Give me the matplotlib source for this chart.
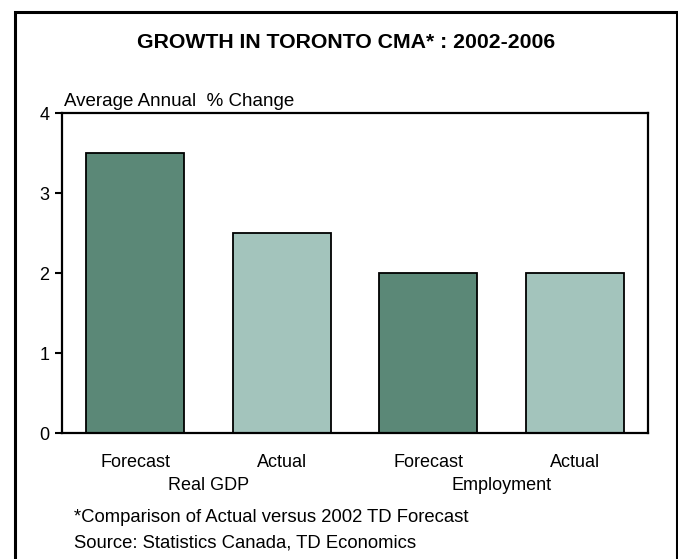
import matplotlib
matplotlib.use("Agg")
import matplotlib.pyplot as plt
from matplotlib.patches import Rectangle

plt.rcParams['font.family'] = ['Liberation Sans', 'DejaVu Sans']

# average annual % change, 2002-2006
bar_labels = ["Forecast", "Actual", "Forecast", "Actual"]
groups = ["Real GDP", "Employment"]
values = [3.5, 2.5, 2.0, 2.0]
colors = ["#5b8877", "#a3c4bc", "#5b8877", "#a3c4bc"]
yticks = [0, 1, 2, 3, 4]

W, H = 678, 559
fig = plt.figure(figsize=(W / 100, H / 100), dpi=100)

# outer border around the whole chart
fig.patches.append(Rectangle((14.5 / W, -0.05), (676.5 - 14.5) / W, 1.05 - 11.5 / H,
                             transform=fig.transFigure, fill=False,
                             edgecolor="black", linewidth=2.2))

ax = fig.add_axes([62 / W, 1 - 433 / H, (648 - 62) / W, (433 - 113) / H])
x = range(len(values))
ax.bar(x, values, width=0.67, color=colors, edgecolor="black", linewidth=1.3)

ax.set_xlim(-0.5, 3.5)
ax.set_ylim(0, 4)
ax.set_yticks(yticks)
ax.set_yticklabels([str(v) for v in yticks], fontsize=13)
ax.set_xticks(list(x))
ax.set_xticklabels(bar_labels, fontsize=13)
ax.tick_params(axis="x", length=0, pad=15)
ax.tick_params(axis="y", length=5, width=1.5, direction="out", pad=4)
for s in ax.spines.values():
    s.set_linewidth(1.6)

# group labels under each pair of bars
for i, g in enumerate(groups):
    gx = ax.transData.transform((2 * i + 0.5, 0))[0] / W
    fig.text(gx, 1 - 486 / H, g, fontsize=13, ha="center", va="center")

fig.text(346 / W, 1 - 43 / H, "GROWTH IN TORONTO CMA* : 2002-2006", fontsize=15.3,
         fontweight="bold", ha="center", va="center")
fig.text(64 / W, 1 - 101 / H, "Average Annual  % Change", fontsize=13.5, ha="left", va="center")
fig.text(74 / W, 1 - 517 / H, "*Comparison of Actual versus 2002 TD Forecast", fontsize=13.3,
         ha="left", va="center")
fig.text(74 / W, 1 - 543 / H, "Source: Statistics Canada, TD Economics", fontsize=13.3,
         ha="left", va="center")

fig.savefig("out.png", dpi=100)
